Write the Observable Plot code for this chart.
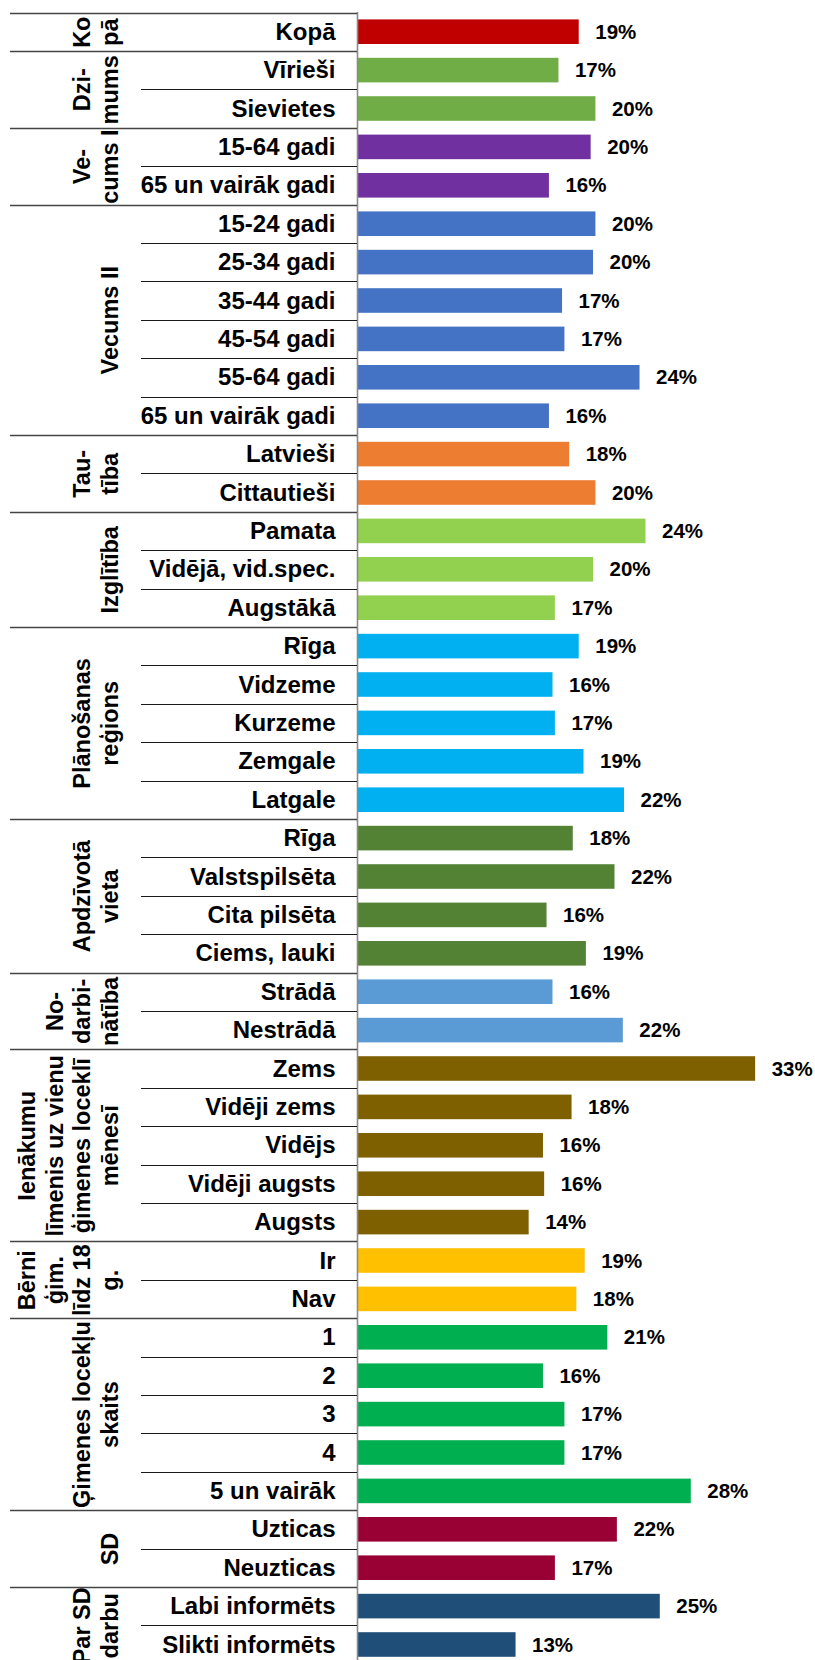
<!DOCTYPE html>
<html>
<head>
<meta charset="utf-8">
<script src="https://cdn.jsdelivr.net/npm/d3@7"></script>
<script src="https://cdn.jsdelivr.net/npm/@observablehq/plot@0.6"></script>
<style>
  html, body { margin: 0; padding: 0; background: #fff; }
  #chart svg { display: block; }
</style>
</head>
<body>
<div id="chart"></div>
<script>
const categories = ["Kopā","Vīrieši","Sievietes","15-64 gadi","65 un vairāk gadi","15-24 gadi","25-34 gadi","35-44 gadi","45-54 gadi","55-64 gadi","65 un vairāk gadi","Latvieši","Cittautieši","Pamata","Vidējā, vid.spec.","Augstākā","Rīga","Vidzeme","Kurzeme","Zemgale","Latgale","Rīga","Valstspilsēta","Cita pilsēta","Ciems, lauki","Strādā","Nestrādā","Zems","Vidēji zems","Vidējs","Vidēji augsts","Augsts","Ir","Nav","1","2","3","4","5 un vairāk","Uzticas","Neuzticas","Labi informēts","Slikti informēts"];

const values = [18.6,16.9,20.0,19.6,16.1,20.0,19.8,17.2,17.4,23.7,16.1,17.8,20.0,24.2,19.8,16.6,18.6,16.4,16.6,19.0,22.4,18.1,21.6,15.9,19.2,16.4,22.3,33.4,18.0,15.6,15.7,14.4,19.1,18.4,21.0,15.6,17.4,17.4,28.0,21.8,16.6,25.4,13.3];

const valueLabels = ["19%","17%","20%","20%","16%","20%","20%","17%","17%","24%","16%","18%","20%","24%","20%","17%","19%","16%","17%","19%","22%","18%","22%","16%","19%","16%","22%","33%","18%","16%","16%","14%","19%","18%","21%","16%","17%","17%","28%","22%","17%","25%","13%"];

const groupNames = ["Ko\npā","Dzi-\nmums","Ve-\ncums I","Vecums II","Tau-\ntība","Izglītība","Plānošanas\nreģions","Apdzīvotā\nvieta","No-\ndarbi-\nnātība","Ienākumu\nlīmenis uz vienu\nģimenes loceklī\nmēnesī","Bērni\nģim.\nlīdz 18\ng.","Ģimenes locekļu\nskaits","SD","Par SD\ndarbu"];
const groupSizes = [1,2,2,6,2,3,5,4,2,5,2,5,2,2];
const groupColors = ["#C00000","#70AD47","#7030A0","#4472C4","#ED7D31","#92D050","#00B0F0","#548235","#5B9BD5","#7F6000","#FFC000","#00B050","#990033","#1F4E79"];

// Build tables
const rows = [];
const groups = [];
let start = 0;
groupNames.forEach((name, g) => {
  groups.push({name, start, end: start + groupSizes[g]});
  for (let k = 0; k < groupSizes[g]; k++) {
    const i = start + k;
    rows.push({i, label: categories[i], value: values[i], vlabel: valueLabels[i], color: groupColors[g], first: k === 0});
  }
  start += groupSizes[g];
});

const font = "'Liberation Sans', Arial, Helvetica, sans-serif";

const plot = Plot.plot({
  width: 815,
  height: 1660,
  marginLeft: 357,
  marginRight: 0,
  marginTop: 12,
  marginBottom: 0,
  style: {fontFamily: font, background: "#fff", color: "#000"},
  x: {domain: [0, 38.42], range: [357, 815], axis: null},
  y: {type: "linear", domain: [0, rows.length], range: [12.5, 1663.7], axis: null},
  marks: [
    Plot.rectX(rows, {x1: 0, x2: "value", y1: d => d.i + 0.18, y2: d => d.i + 0.82, fill: "color"}),
    Plot.ruleX([0], {stroke: "#8a8a8a", strokeWidth: 1.6}),
    Plot.text(rows, {x: "value", y: d => d.i + 0.5, text: "vlabel", dx: 16, textAnchor: "start",
      fontSize: 20.5, fontWeight: "bold", fill: "#000"}),
    Plot.text(rows, {y: d => d.i + 0.5, text: "label", frameAnchor: "left", dx: -22, textAnchor: "end",
      fontSize: 24, fontWeight: "bold", fill: "#000"}),
    Plot.text(groups, {y: d => (d.start + d.end) / 2, text: "name", frameAnchor: "left", dx: -239.5,
      rotate: -90, textAnchor: "middle", lineAnchor: "bottom", lineHeight: 1.18,
      fontSize: 23.5, fontWeight: "bold", fill: "#000"})
  ]
});

// Divider lines in the label panel, positioned through the plot's scales
const ys = plot.scale("y");
const xs = plot.scale("x");
const axisX = xs.apply(0);
const svg = d3.select(plot.tagName.toLowerCase() === "svg" ? plot : plot.querySelector("svg"));
const gDiv = svg.append("g").attr("class", "dividers");
rows.forEach(r => {
  const yy = Math.round(ys.apply(r.i)) + 0.5;
  gDiv.append("line")
    .attr("x1", r.first ? 10 : 141).attr("x2", axisX)
    .attr("y1", yy).attr("y2", yy)
    .attr("stroke", r.first ? "#444" : "#1a1a1a")
    .attr("stroke-width", r.first ? 1.5 : 1);
});

document.getElementById("chart").appendChild(plot);
</script>
</body>
</html>
